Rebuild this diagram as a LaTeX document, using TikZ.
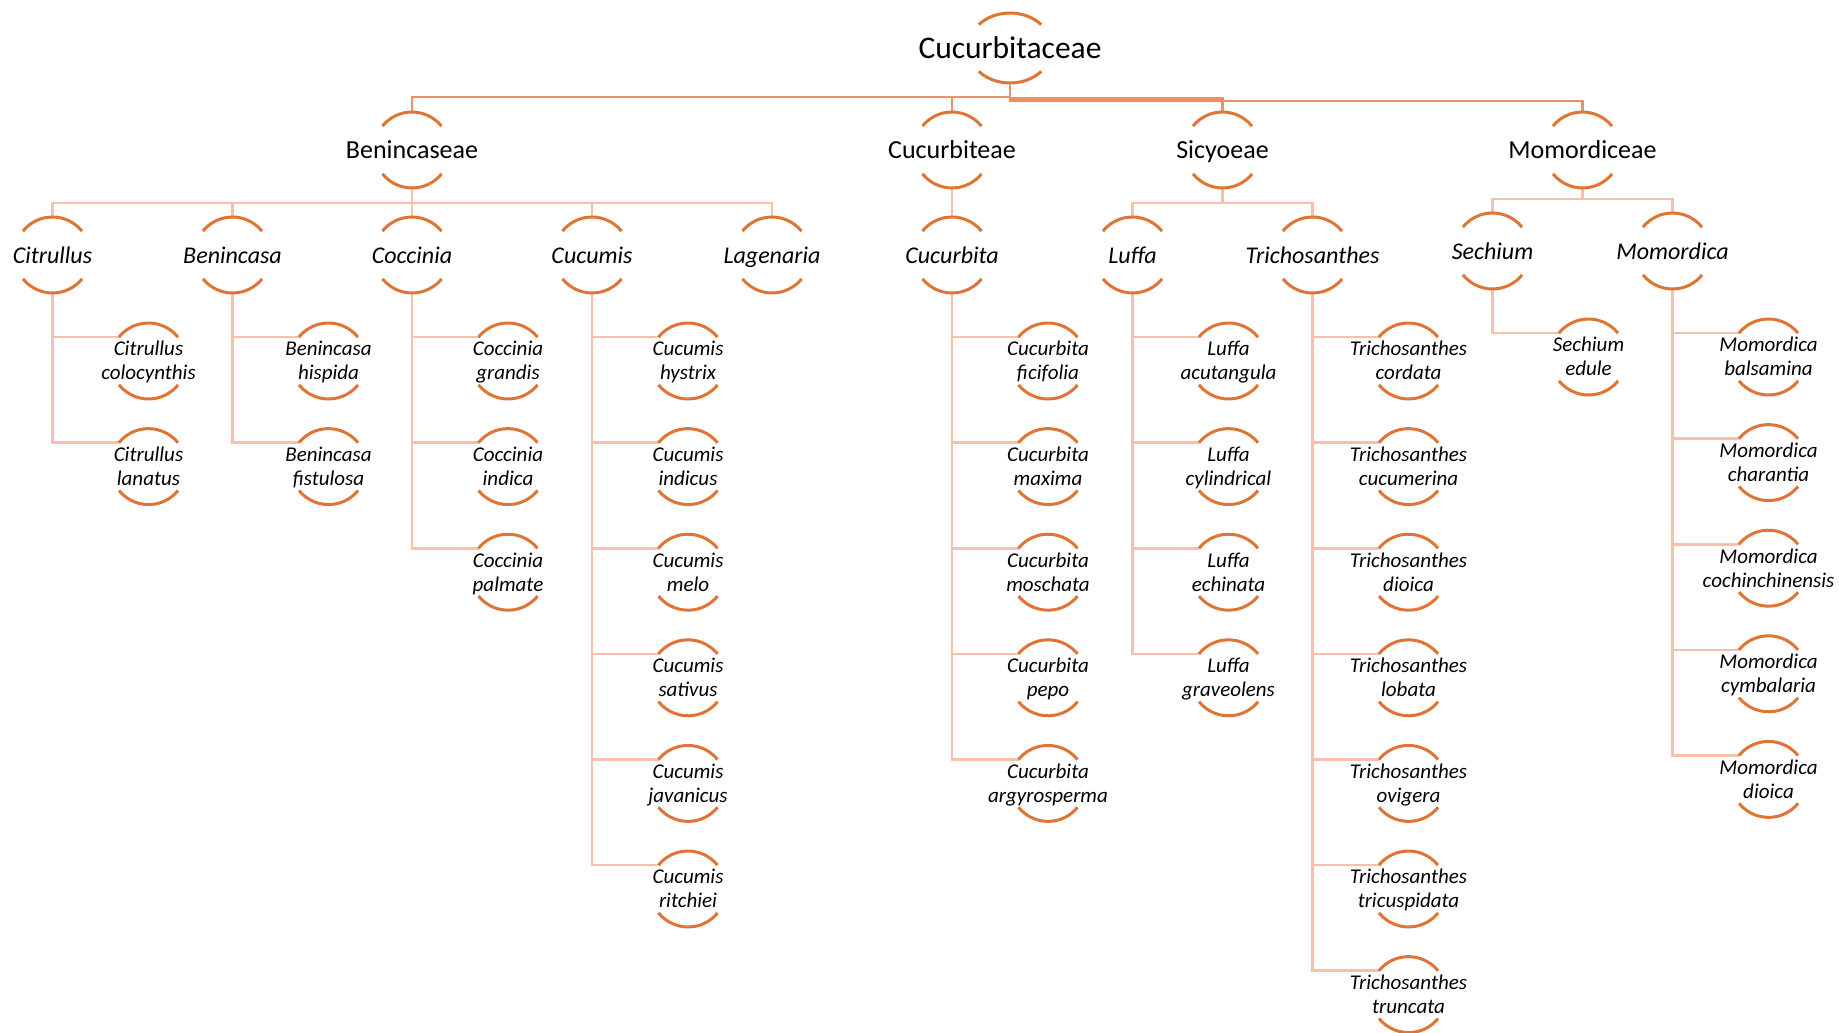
\documentclass[tikz,border=0pt]{standalone}
\usepackage{fontspec}
\setmainfont{Carlito}
\usetikzlibrary{calc}
\definecolor{arcc}{RGB}{222,117,52}
\definecolor{connA}{RGB}{239,143,98}
\definecolor{connB}{RGB}{246,192,172}
\tikzset{
  arcline/.style={draw=arcc, line width=3pt},
  topconn/.style={draw=connA, line width=2.6pt},
  subconn/.style={draw=connB, line width=2.6pt},
  rootlbl/.style={font=\fontsize{31.5}{36}\selectfont, inner sep=0pt, text height=26pt, text depth=5.7pt},
  tribelbl/.style={font=\fontsize{26}{30}\selectfont, inner sep=0pt, text height=21pt, text depth=4.3pt},
  genuslbl/.style={font=\fontsize{24}{28}\selectfont\itshape, inner sep=0pt, text height=22pt, text depth=4.5pt},
  splbl/.style={font=\fontsize{21}{24}\selectfont\itshape, inner sep=0pt, align=center},
}
\newcommand{\drawarcs}[1]{%
  \draw[arcline] ([shift={(29.5pt,23.9pt)}]#1.center) arc[start angle=39,end angle=141,radius=38pt];
  \draw[arcline] ([shift={(-29.5pt,-23.9pt)}]#1.center) arc[start angle=219,end angle=321,radius=38pt];}
\newcommand{\spgroup}[4]{%
  \foreach \nm/\la/\lb [count=\i from 0] in {#4} {
    \pgfmathsetmacro{\yy}{#3+105.6*\i}
    \node[splbl] (\nm) at (#2+96,\yy) {\rule{0pt}{21pt}\la\\\lb\strut};
    \draw[subconn] ($(#1)+(0,37.5)$) |- ($(\nm)+(-29.5,-24)$);
    \drawarcs{\nm}
  }}
\begin{document}
\begin{tikzpicture}[x=1pt,y=-1pt]
\useasboundingbox[fill=white] (0,0) rectangle (1839,1033);

% root
\node[rootlbl] (root) at (1010,48) {Cucurbitaceae};

% tribes
\node[tribelbl] (ben) at (412,150) {Benincaseae};
\node[tribelbl] (cuc) at (952,150) {Cucurbiteae};
\node[tribelbl] (sic) at (1222.5,150) {Sicyoeae};
\node[tribelbl] (mom) at (1582.5,150) {Momordiceae};

\draw[topconn] ($(root)+(0,34)$) -- ++(0,15) -| ($(ben)+(0,-37.5)$);
\draw[topconn] ($(root)+(0,34)$) -- ++(0,15) -| ($(cuc)+(0,-37.5)$);
\draw[topconn] ($(root)+(0,34)$) -- ++(0,16.5) -| ($(sic)+(0,-37.5)$);
\draw[topconn] ($(root)+(0,34)$) -- ++(0,19) -| ($(mom)+(0,-37.5)$);

% genera
\node[genuslbl] (gcit) at (52.5,255) {Citrullus};
\node[genuslbl] (gben) at (232.5,255) {Benincasa};
\node[genuslbl] (gcoc) at (412,255) {Coccinia};
\node[genuslbl] (gcum) at (592,255) {Cucumis};
\node[genuslbl] (glag) at (772,255) {Lagenaria};
\node[genuslbl] (gcur) at (952,255) {Cucurbita};
\node[genuslbl] (gluf) at (1132.5,255) {Luffa};
\node[genuslbl] (gtri) at (1312.5,255) {Trichosanthes};
\node[genuslbl] (gsec) at (1492.5,251) {Sechium};
\node[genuslbl] (gmom) at (1672.5,251) {Momordica};

\foreach \g in {gcit,gben,gcoc,gcum,glag}
  \draw[subconn] ($(ben)+(0,37.5)$) -- ++(0,15.5) -| ($(\g)+(0,-37.5)$);
\draw[subconn] ($(cuc)+(0,37.5)$) -- ($(gcur)+(0,-37.5)$);
\foreach \g in {gluf,gtri}
  \draw[subconn] ($(sic)+(0,37.5)$) -- ++(0,15.5) -| ($(\g)+(0,-37.5)$);
\foreach \g in {gsec,gmom}
  \draw[subconn] ($(mom)+(0,37.5)$) -- ++(0,11.5) -| ($(\g)+(0,-37.5)$);

% species
\spgroup{gcit}{52.5}{361}{scit1/Citrullus/colocynthis, scit2/Citrullus/lanatus}
\spgroup{gben}{232.5}{361}{sben1/Benincasa/hispida, sben2/Benincasa/fistulosa}
\spgroup{gcoc}{412}{361}{scoc1/Coccinia/grandis, scoc2/Coccinia/indica, scoc3/Coccinia/palmate}
\spgroup{gcum}{592}{361}{scum1/Cucumis/hystrix, scum2/Cucumis/indicus, scum3/Cucumis/melo, scum4/Cucumis/sativus, scum5/Cucumis/javanicus, scum6/Cucumis/ritchiei}
\spgroup{gcur}{952}{361}{scur1/Cucurbita/ficifolia, scur2/Cucurbita/maxima, scur3/Cucurbita/moschata, scur4/Cucurbita/pepo, scur5/Cucurbita/argyrosperma}
\spgroup{gluf}{1132.5}{361}{sluf1/Luffa/acutangula, sluf2/Luffa/cylindrical, sluf3/Luffa/echinata, sluf4/Luffa/graveolens}
\spgroup{gtri}{1312.5}{361}{stri1/Trichosanthes/cordata, stri2/Trichosanthes/cucumerina, stri3/Trichosanthes/dioica, stri4/Trichosanthes/lobata, stri5/Trichosanthes/ovigera, stri6/Trichosanthes/tricuspidata, stri7/Trichosanthes/truncata}
\spgroup{gsec}{1492.5}{357}{ssec1/Sechium/edule}
\spgroup{gmom}{1672.5}{357}{smom1/Momordica/balsamina, smom2/Momordica/charantia, smom3/Momordica/cochinchinensis, smom4/Momordica/cymbalaria, smom5/Momordica/dioica}

% arcs for root, tribes, genera
\draw[arcline] ([shift={(31.2pt,23.4pt)}]root.center) arc[start angle=42,end angle=138,x radius=42pt,y radius=35pt];
\draw[arcline] ([shift={(-31.2pt,-23.4pt)}]root.center) arc[start angle=222,end angle=318,x radius=42pt,y radius=35pt];
\foreach \n in {ben,cuc,sic,mom,gcit,gben,gcoc,gcum,glag,gcur,gluf,gtri,gsec,gmom}
  {\drawarcs{\n}}
\end{tikzpicture}
\end{document}
